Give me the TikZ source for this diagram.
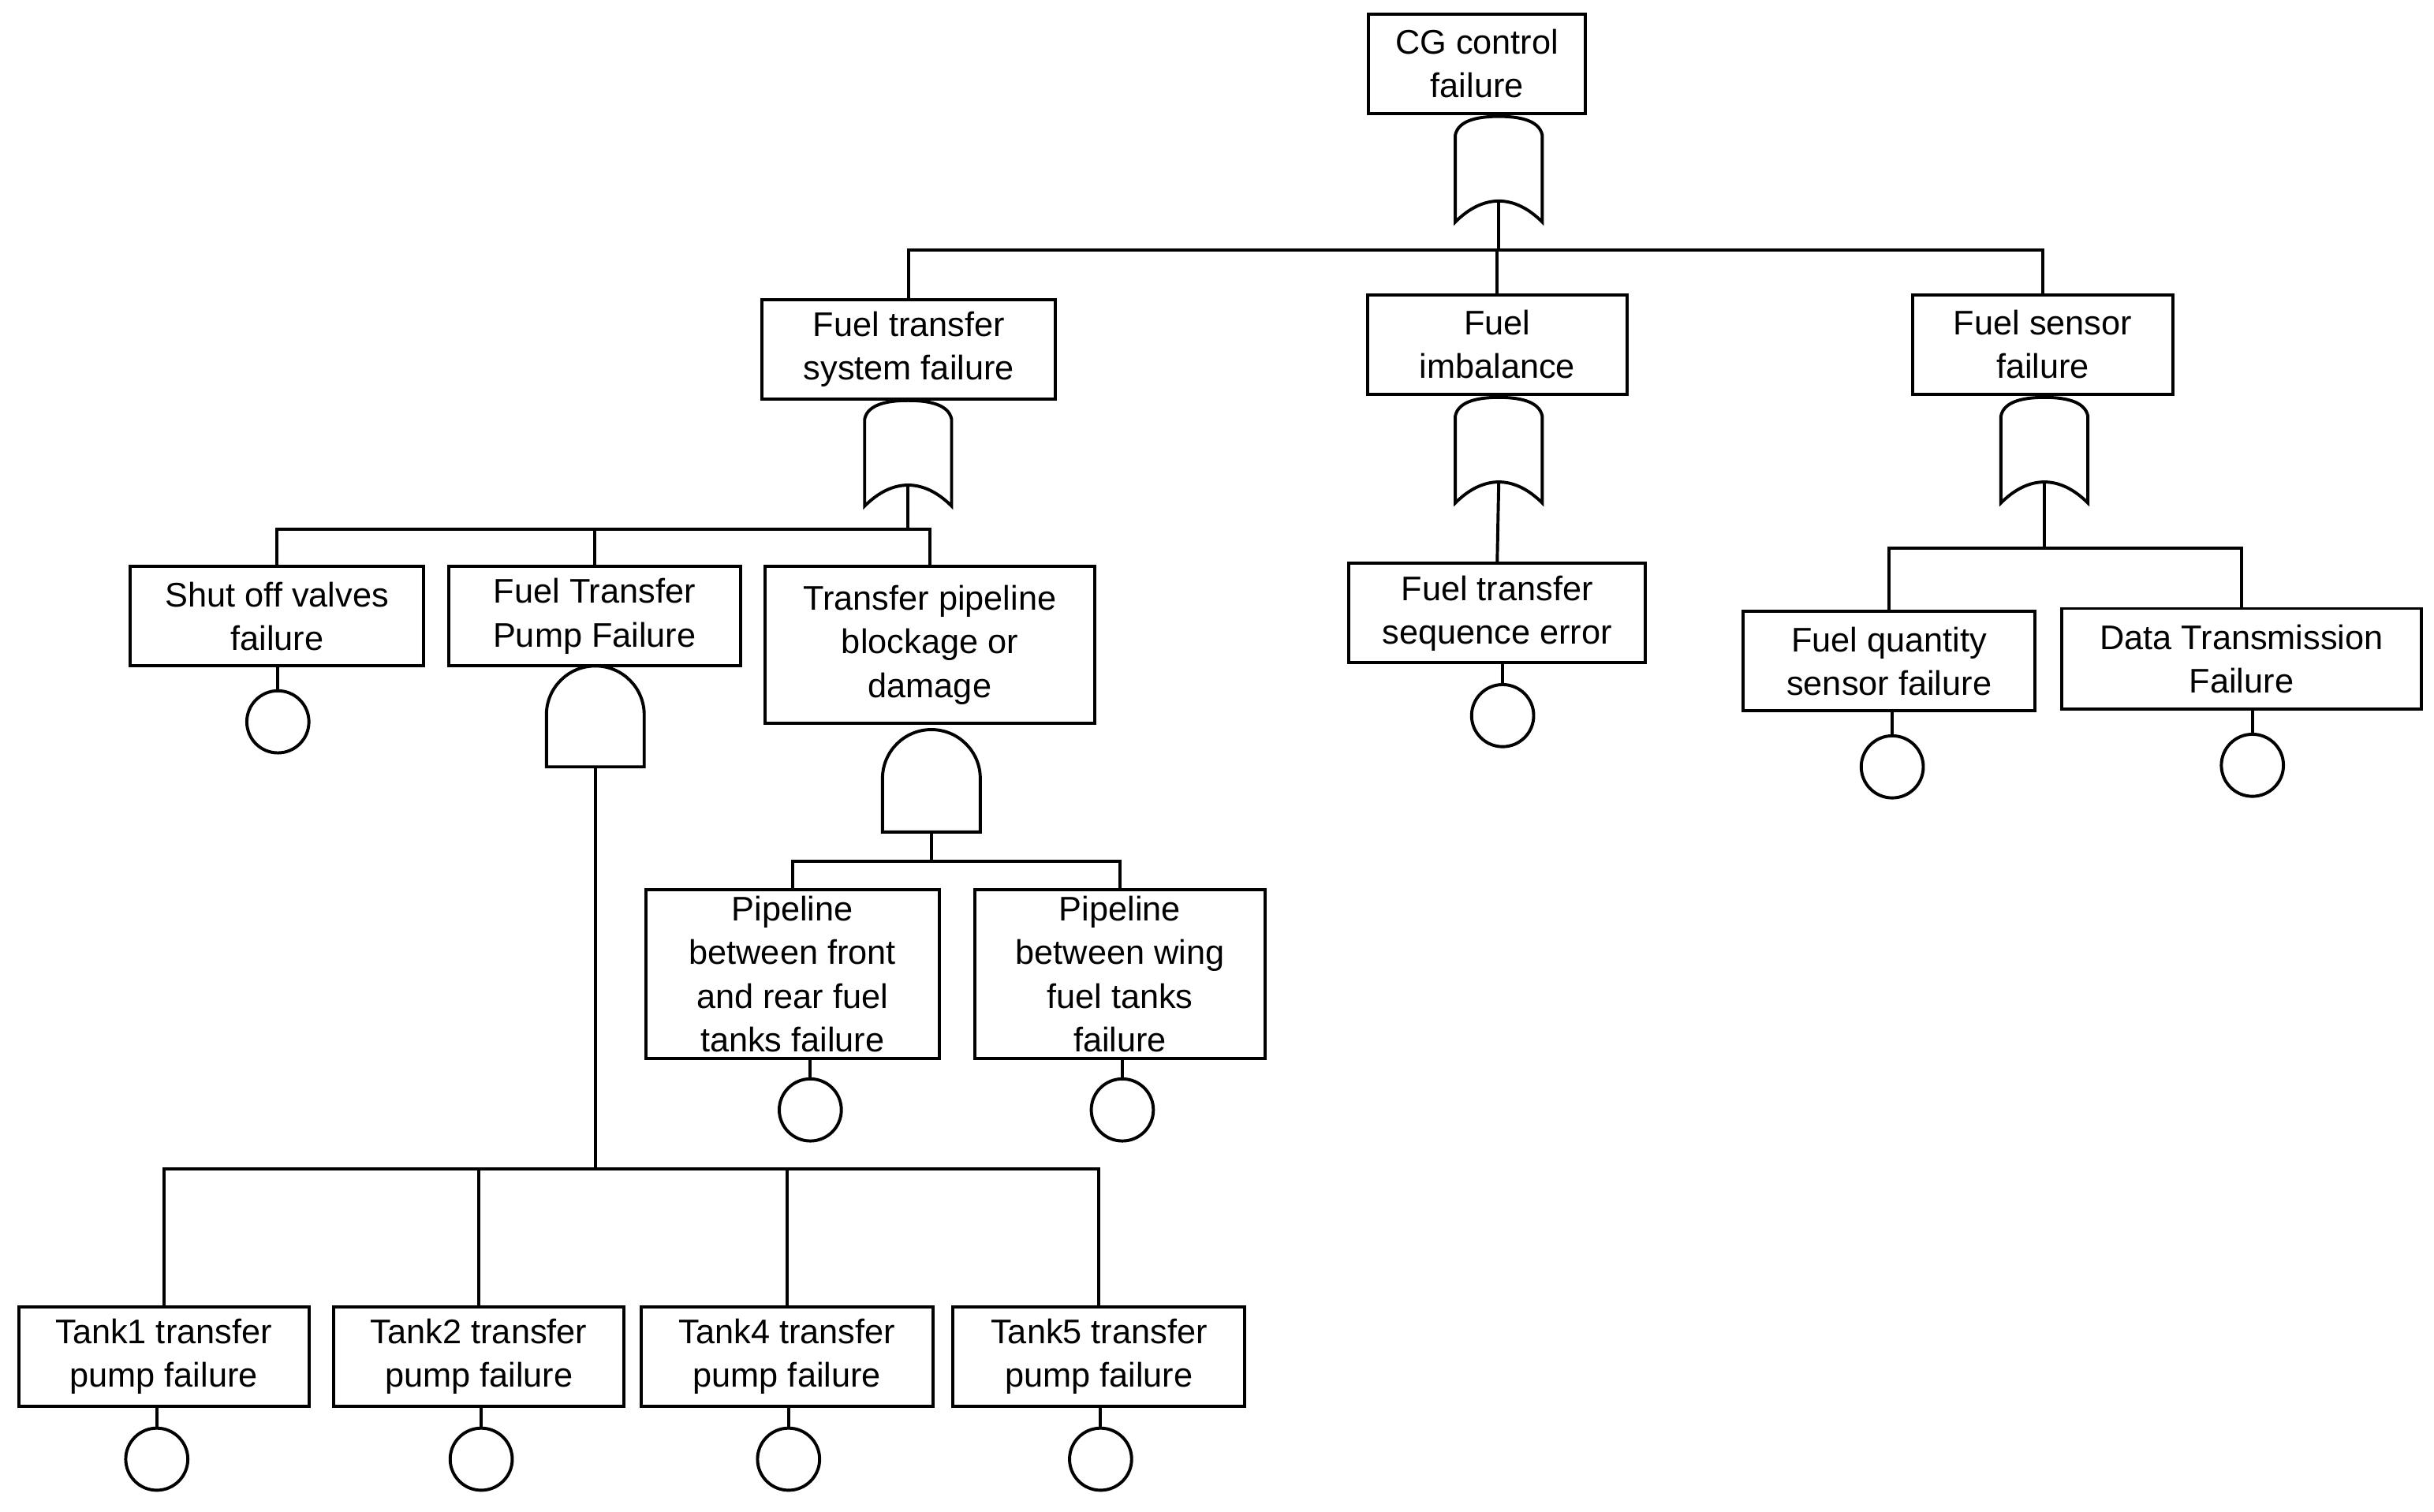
\documentclass[tikz,border=0pt]{standalone}
\usepackage{fontspec}
\setmainfont{Liberation Sans}
\usetikzlibrary{calc}

% fault tree pieces
\tikzset{
  event/.style={draw, line width=1pt, align=center, inner sep=1pt,
    font=\fontsize{11}{14}\selectfont},
  basic/.style={draw, circle, line width=1pt, minimum size=20pt, inner sep=0pt},
  gate/.style={line width=1pt}
}
\newcommand{\orgate}[4]{% name, centre x, top y, bottom y
  \draw[gate] ({#2-28},#4) -- ({#2-28},{#3+12})
    .. controls ({#2-26},{#3+2}) and ({#2-12},#3) .. (#2,#3)
    .. controls ({#2+12},#3) and ({#2+26},{#3+2}) .. ({#2+28},{#3+12})
    -- ({#2+28},#4) .. controls ({#2+10},{#4-18}) and ({#2-10},{#4-18}) .. cycle;
  \coordinate (#1) at (#2,{#4-13.5});}
\newcommand{\andgate}[4]{% name, centre x, top y, bottom y
  \draw[gate] ({#2-31.5},#4) -- ({#2-31.5},{#3+31.5}) arc (180:360:31.5)
    -- ({#2+31.5},#4) -- cycle;
  \coordinate (#1) at (#2,#4);}

\begin{document}
\begin{tikzpicture}[x=0.5pt, y=-0.5pt, line width=1pt]
  \useasboundingbox (0,0) rectangle (1568,974);

  % events
  \node[event, minimum width=70pt, minimum height=32pt] (cg) at (951.5,41) {CG control\\failure};
  \node[event, minimum width=94.5pt, minimum height=32pt] (fts) at (585.5,225) {Fuel transfer\\system failure};
  \node[event, minimum width=83.5pt, minimum height=32pt] (fim) at (964.5,222) {Fuel\\imbalance};
  \node[event, minimum width=84pt, minimum height=32pt] (fsf) at (1316,222) {Fuel sensor\\failure};
  \node[event, minimum width=94.5pt, minimum height=32pt] (sov) at (178.5,397) {Shut off valves\\failure};
  \node[event, minimum width=94pt, minimum height=32pt] (tpf) at (383,397) {Fuel Transfer\\Pump Failure};
  \node[event, minimum width=106pt, minimum height=50.5pt] (tpb) at (599,415.5) {Transfer pipeline\\blockage or\\damage};
  \node[event, minimum width=95.5pt, minimum height=32pt] (fse) at (964.5,395) {Fuel transfer\\sequence error};
  \node[event, minimum width=94pt, minimum height=32pt] (fqs) at (1217,426) {Fuel quantity\\sensor failure};
  \node[event, minimum width=116pt, minimum height=32.5pt] (dtf) at (1444,424.5) {Data Transmission\\Failure};
  \node[event, minimum width=94.5pt, minimum height=54.5pt] (pfr) at (510.5,627.5) {Pipeline\\between front\\and rear fuel\\tanks failure};
  \node[event, minimum width=93.5pt, minimum height=54.5pt] (pwt) at (721.5,627.5) {Pipeline\\between wing\\fuel tanks\\failure};
  \node[event, minimum width=93.5pt, minimum height=32pt] (tk1) at (105.5,874) {Tank1 transfer\\pump failure};
  \node[event, minimum width=93.5pt, minimum height=32pt] (tk2) at (308.5,874) {Tank2 transfer\\pump failure};
  \node[event, minimum width=94pt, minimum height=32pt] (tk4) at (507,874) {Tank4 transfer\\pump failure};
  \node[event, minimum width=94pt, minimum height=32pt] (tk5) at (708,874) {Tank5 transfer\\pump failure};

  % basic events
  \node[basic] (c1) at (179,465) {};
  \node[basic] (c2) at (968,461) {};
  \node[basic] (c3) at (1219,494) {};
  \node[basic] (c4) at (1451,493) {};
  \node[basic] (c5) at (522,715) {};
  \node[basic] (c6) at (723,715) {};
  \node[basic] (c7) at (101,940) {};
  \node[basic] (c8) at (310,940) {};
  \node[basic] (c9) at (508,940) {};
  \node[basic] (c10) at (709,940) {};

  % gates
  \orgate{gcg}{965.5}{75}{143}
  \orgate{gfts}{585}{258}{326}
  \orgate{gfim}{965.5}{256}{324}
  \orgate{gfsf}{1317}{256}{324}
  \andgate{gtpf}{383.5}{429}{494}
  \andgate{gtpb}{600}{470}{536}

  % connectors
  \coordinate (bcg) at (965.5,161);
  \coordinate (bfts) at (585,341);
  \coordinate (bfsf) at (1317,353);
  \coordinate (btpf) at (383.5,753);
  \coordinate (btpb) at (600,555);
  \foreach \n in {fts,fim,fsf} \draw (gcg) -- (bcg) -| (\n.north);
  \foreach \n in {sov,tpf,tpb} \draw (gfts) -- (bfts) -| (\n.north);
  \draw (gfim) -- (fse.north);
  \foreach \n in {fqs,dtf} \draw (gfsf) -- (bfsf) -| (\n.north);
  \foreach \n in {tk1,tk2,tk4,tk5} \draw (gtpf) -- (btpf) -| (\n.north);
  \foreach \n in {pfr,pwt} \draw (gtpb) -- (btpb) -| (\n.north);
  \foreach \a/\b in {sov/c1,fse/c2,fqs/c3,dtf/c4,pfr/c5,pwt/c6,tk1/c7,tk2/c8,tk4/c9,tk5/c10}
    \draw (\b.north |- \a.south) -- (\b.north);
\end{tikzpicture}
\end{document}
